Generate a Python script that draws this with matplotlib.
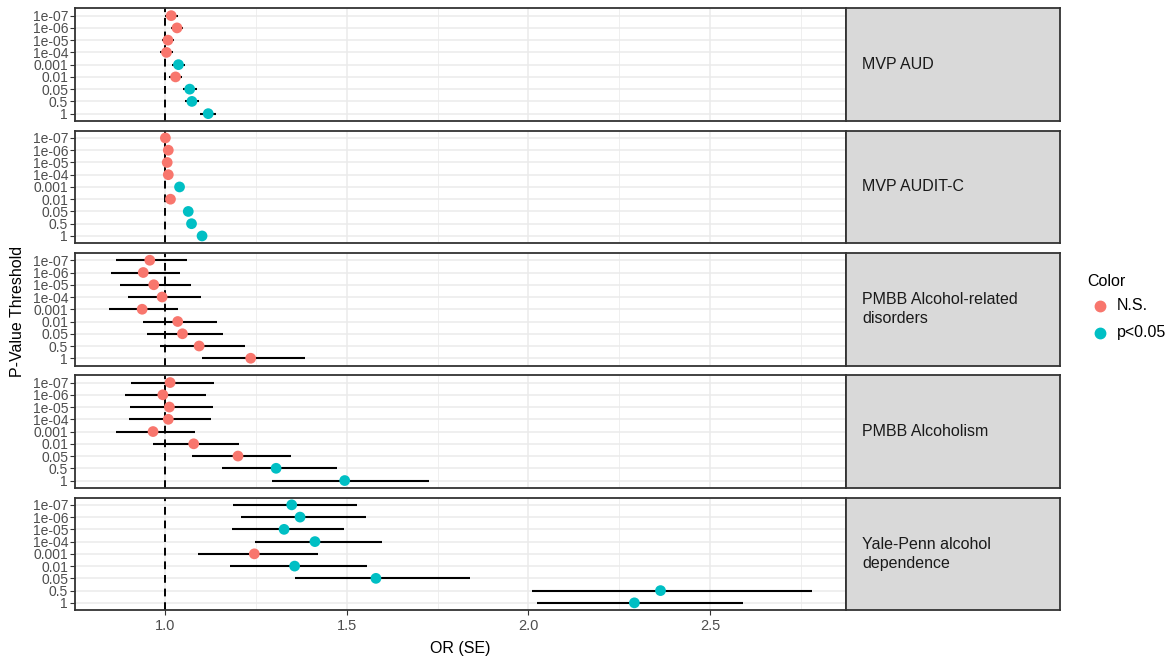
import matplotlib
matplotlib.use("Agg")
import matplotlib.pyplot as plt
from matplotlib.lines import Line2D

plt.rcParams["font.family"] = ["Liberation Sans", "DejaVu Sans"]

thresholds = ["1e-07", "1e-06", "1e-05", "1e-04", "0.001", "0.01", "0.05", "0.5", "1"]
cohorts = ["MVP AUD", "MVP AUDIT-C", "PMBB Alcohol-related\ndisorders",
           "PMBB Alcoholism", "Yale-Penn alcohol\ndependence"]

or_mvp_aud = [1.016, 1.032, 1.007, 1.003, 1.036, 1.028, 1.067, 1.073, 1.118]
lo_mvp_aud = [0.998, 1.015, 0.990, 0.985, 1.017, 1.011, 1.048, 1.054, 1.096]
hi_mvp_aud = [1.034, 1.049, 1.024, 1.021, 1.055, 1.045, 1.086, 1.092, 1.140]
sig_mvp_aud = ["N.S.", "N.S.", "N.S.", "N.S.", "p<0.05", "N.S.", "p<0.05", "p<0.05", "p<0.05"]

or_mvp_auditc = [1.000, 1.008, 1.005, 1.008, 1.039, 1.014, 1.063, 1.072, 1.101]
lo_mvp_auditc = [0.993, 1.001, 0.998, 1.001, 1.032, 1.007, 1.056, 1.065, 1.093]
hi_mvp_auditc = [1.007, 1.015, 1.012, 1.015, 1.046, 1.021, 1.070, 1.079, 1.109]
sig_mvp_auditc = ["N.S.", "N.S.", "N.S.", "N.S.", "p<0.05", "N.S.", "p<0.05", "p<0.05", "p<0.05"]

or_pmbb_ard = [0.957, 0.939, 0.968, 0.991, 0.936, 1.034, 1.047, 1.093, 1.235]
lo_pmbb_ard = [0.864, 0.849, 0.874, 0.896, 0.845, 0.937, 0.948, 0.985, 1.101]
hi_pmbb_ard = [1.059, 1.040, 1.071, 1.099, 1.036, 1.142, 1.160, 1.218, 1.385]
sig_pmbb_ard = ["N.S."] * 9

or_pmbb_alc = [1.013, 0.993, 1.011, 1.008, 0.966, 1.078, 1.200, 1.305, 1.494]
lo_pmbb_alc = [0.904, 0.888, 0.903, 0.900, 0.864, 0.966, 1.073, 1.157, 1.293]
hi_pmbb_alc = [1.134, 1.112, 1.132, 1.127, 1.081, 1.202, 1.345, 1.474, 1.726]
sig_pmbb_alc = ["N.S."] * 7 + ["p<0.05", "p<0.05"]

or_yp = [1.348, 1.371, 1.327, 1.412, 1.245, 1.356, 1.580, 2.364, 2.292]
lo_yp = [1.185, 1.208, 1.183, 1.247, 1.090, 1.179, 1.358, 2.010, 2.025]
hi_yp = [1.529, 1.553, 1.491, 1.597, 1.421, 1.555, 1.839, 2.780, 2.591]
sig_yp = ["p<0.05", "p<0.05", "p<0.05", "p<0.05", "N.S.", "p<0.05", "p<0.05", "p<0.05", "p<0.05"]

panels = [
    (or_mvp_aud, lo_mvp_aud, hi_mvp_aud, sig_mvp_aud),
    (or_mvp_auditc, lo_mvp_auditc, hi_mvp_auditc, sig_mvp_auditc),
    (or_pmbb_ard, lo_pmbb_ard, hi_pmbb_ard, sig_pmbb_ard),
    (or_pmbb_alc, lo_pmbb_alc, hi_pmbb_alc, sig_pmbb_alc),
    (or_yp, lo_yp, hi_yp, sig_yp),
]

palette = {"N.S.": "#F8766D", "p<0.05": "#00BFC4"}
x_major = [1.0, 1.5, 2.0, 2.5]
x_minor = [0.75, 1.25, 1.75, 2.25, 2.75]
xlim = (0.751, 2.875)

W, H = 1174, 658
fig = plt.figure(figsize=(W / 100, H / 100), dpi=100)

px_left, px_right = 75, 846
strip_right = 1059.5
top0, ph, gap = 8.3, 112.7, 9.6

ypos = list(range(len(thresholds)))[::-1]  # 1e-07 at top

for i, ((orv, lo, hi, sig), name) in enumerate(zip(panels, cohorts)):
    top = top0 + i * (ph + gap)
    ax = fig.add_axes([px_left / W, 1 - (top + ph) / H,
                       (px_right - px_left) / W, ph / H])
    ax.set_xlim(*xlim)
    ax.set_ylim(-0.6, len(thresholds) - 1 + 0.6)
    for xm in x_minor:
        ax.axvline(xm, color="#EBEBEB", lw=0.55, zorder=0)
    for xm in x_major:
        ax.axvline(xm, color="#EBEBEB", lw=1.1, zorder=0)
    for y in ypos:
        ax.axhline(y, color="#EBEBEB", lw=1.1, zorder=0)
    ax.axvline(1.0, color="black", lw=1.4, ls=(0, (4, 3)), zorder=1)
    ax.hlines(ypos, lo, hi, color="black", lw=1.5, zorder=2)
    ax.scatter(orv, ypos, s=60, c=[palette[s] for s in sig], zorder=3,
               linewidths=0)
    ax.set_yticks(ypos)
    ax.set_yticklabels(thresholds)
    ax.set_xticks(x_major)
    ax.tick_params(axis="both", colors="#333333", labelcolor="#4D4D4D",
                   labelsize=10, length=3.5, width=0.8, pad=2)
    ax.tick_params(axis="y", pad=1.5)
    if i < len(panels) - 1:
        ax.tick_params(axis="x", bottom=False, labelbottom=False)
    else:
        ax.set_xticklabels(["1.0", "1.5", "2.0", "2.5"])
        ax.tick_params(axis="x", labelsize=10.5, pad=3)
    for sp in ax.spines.values():
        sp.set_color("#333333")
        sp.set_linewidth(1.3)

    # facet strip on the right
    sax = fig.add_axes([px_right / W, 1 - (top + ph) / H,
                        (strip_right - px_right) / W, ph / H])
    sax.set_xlim(0, 1)
    sax.set_ylim(0, 1)
    sax.set_facecolor("#D9D9D9")
    sax.set_xticks([])
    sax.set_yticks([])
    for sp in sax.spines.values():
        sp.set_color("#333333")
        sp.set_linewidth(1.3)
    sax.text(0.075, 0.5, name, ha="left", va="center", fontsize=11.5,
             color="#1A1A1A", linespacing=1.3)

fig.text((px_left + px_right) / 2 / W, 1 - 648 / H, "OR (SE)",
         ha="center", va="center", fontsize=11.5, color="black")
fig.text(17.5 / W, 1 - 311 / H, "P-Value Threshold", rotation=90,
         ha="center", va="center", fontsize=11.5, color="black")

# legend
fig.text(1087 / W, 1 - 281 / H, "Color", ha="left", va="center",
         fontsize=11.5, color="black")
for lab, yy in [("N.S.", 306), ("p<0.05", 333)]:
    fig.add_artist(Line2D([1100 / W], [1 - yy / H], marker="o", ms=7.5,
                          color=palette[lab], ls="none",
                          transform=fig.transFigure))
    fig.text(1117 / W, 1 - yy / H, lab, ha="left", va="center",
             fontsize=11.5, color="black")

fig.savefig("out.png", dpi=100, facecolor="white")
